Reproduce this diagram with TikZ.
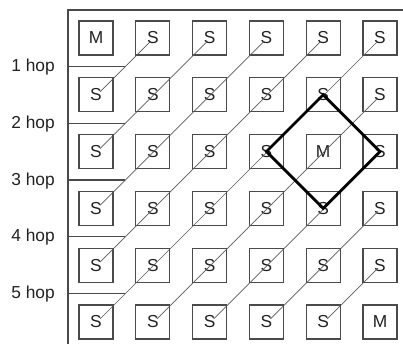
\documentclass[tikz,border=0pt]{standalone}
\usepackage{fontspec}
\setmainfont{Liberation Sans}
\usetikzlibrary{calc}
\definecolor{boxgray}{HTML}{4A4A4A}
\definecolor{diaggray}{HTML}{5A5A5A}
\definecolor{txt}{HTML}{222222}
\tikzset{
  cell/.style={draw=boxgray, line width=0.8pt, minimum size=25.5pt, inner sep=0pt, text=txt, font=\fontsize{13}{15}\selectfont},
  hoplabel/.style={anchor=base east, inner sep=0pt, text=txt, font=\fontsize{13}{15}\selectfont},
  frame/.style={draw=boxgray, line width=0.8pt},
  diag/.style={draw=diaggray, line width=0.5pt},
  diamondline/.style={draw=black, line width=2.1pt, line join=miter},
}
\begin{document}
\begin{tikzpicture}[x=0.75pt, y=-0.75pt]
\useasboundingbox (0,0) rectangle (403,344);
% frame
\coordinate (ftr) at (403,10);
\coordinate (ftl) at (68,10);
\coordinate (fbl) at (68,344);
\draw[frame] (ftr) -- (ftl) -- (fbl);
% cells
\foreach \r in {0,...,5}{
  \foreach \c in {0,...,5}{
    \pgfmathtruncatemacro{\ism}{(\r==0 && \c==0) || (\r==2 && \c==4) || (\r==5 && \c==5)}
    \ifnum\ism=1
      \node[cell] (c-\r-\c) at ({96+56.8*\c},{38+56.8*\r}) {M};
    \else
      \node[cell] (c-\r-\c) at ({96+56.8*\c},{38+56.8*\r}) {S};
    \fi
  }
}
% diagonals
\foreach \d in {1,...,5}{
  \draw[diag] ($(c-\d-0.center)+(4,-3)$) -- ($(c-0-\d.center)+(-2,3)$);
}
\foreach \d in {1,...,4}{
  \pgfmathtruncatemacro{\a}{\d+1}
  \pgfmathtruncatemacro{\b}{5-\d}
  \draw[diag] ($(c-5-\d.center)+(4,-3)$) -- ($(c-\d-5.center)+(-2,3)$);
}
% hop lines and labels
\foreach \k in {1,...,5}{
  \coordinate (he-\k) at ($(c-\k-0.center)+(29.4,-28.4)$);
  \coordinate (hs-\k) at (fbl |- he-\k);
  \draw[frame] (hs-\k) -- (he-\k);
  \node[hoplabel] (hl-\k) at ($(hs-\k)+(-13,5)$) {\k\ hop};
}
% diamond
\draw[diamondline] (c-1-4.center) -- (c-2-5.center) -- (c-3-4.center) -- (c-2-3.center) -- cycle;
\end{tikzpicture}
\end{document}
